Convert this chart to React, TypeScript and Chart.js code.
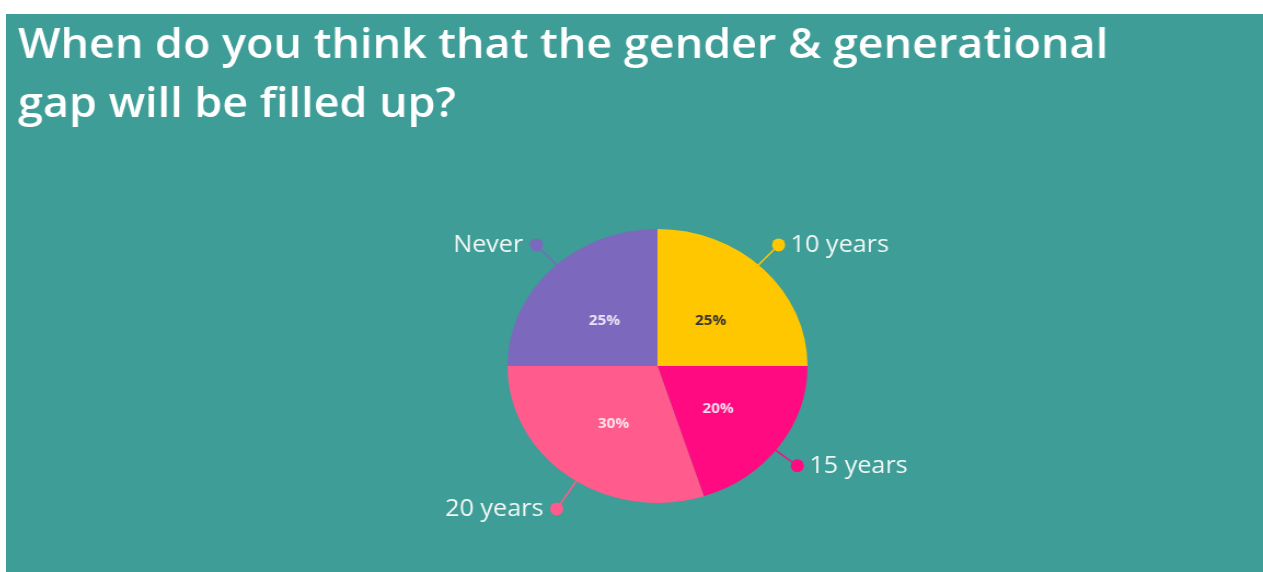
import React, { useEffect, useRef } from "react";
import { Chart, registerables } from "chart.js";

Chart.register(...registerables);

const titleLines = ["When do you think that the gender & generational", "gap will be filled up?"];
const categories = ["10 years", "15 years", "20 years", "Never"];
const shares = [25, 20, 30, 25];
const sliceColors = ["#FFC700", "#FF0A80", "#FF5B8C", "#7C69BE"];
const percentColors = ["#3a3530", "#f5d9ea", "#f7e3ea", "#e9e3f5"];

const BG = "#3E9D96";
const FONT = "'Open Sans', 'DejaVu Sans', sans-serif";
const STRETCH = 1.095; // the reference is horizontally stretched
const CSS_W = 1257;
const CSS_H = 558;
const CANVAS_W = Math.round(CSS_W / STRETCH);

// small style tweaks for the outer callouts (degrees / px), per slice
const calloutAngleNudge = [-2.6, 2, -3.2, 2.6];
const calloutDistance = [27, 25, 33, 27];

const decorPlugin = {
  id: "decor",
  afterDatasetsDraw(chart: any) {
    const ctx = chart.ctx as CanvasRenderingContext2D;
    const meta = chart.getDatasetMeta(0);
    ctx.save();
    // title
    ctx.fillStyle = "#ffffff";
    ctx.font = `600 41px ${FONT}`;
    ctx.textAlign = "left";
    ctx.textBaseline = "alphabetic";
    ctx.fillText(titleLines[0], 11, 44);
    ctx.fillText(titleLines[1], 11, 103);

    meta.data.forEach((arc: any, i: number) => {
      const { x, y, startAngle, endAngle, outerRadius } = arc.getProps(
        ["x", "y", "startAngle", "endAngle", "outerRadius"],
        true
      );
      const mid = (startAngle + endAngle) / 2;
      const cos = Math.cos(mid);
      const sin = Math.sin(mid);
      // percent label
      const pr = outerRadius * 0.5;
      ctx.fillStyle = percentColors[i];
      ctx.font = `bold 14px ${FONT}`;
      ctx.textAlign = "center";
      ctx.textBaseline = "middle";
      ctx.fillText(shares[i] + "%", x + cos * pr, y + sin * pr + 3);

      // leader line + dot
      const a = mid + (calloutAngleNudge[i] * Math.PI) / 180;
      const ca = Math.cos(a);
      const sa = Math.sin(a);
      const dr = outerRadius + calloutDistance[i];
      const dx = x + ca * dr;
      const dy = y + sa * dr;
      ctx.strokeStyle = sliceColors[i];
      ctx.lineWidth = 1.5;
      ctx.beginPath();
      ctx.moveTo(x + ca * (outerRadius - 2), y + sa * (outerRadius - 2));
      ctx.lineTo(dx, dy);
      ctx.stroke();
      ctx.fillStyle = sliceColors[i];
      ctx.beginPath();
      ctx.ellipse(dx, dy, 6, 6.5, 0, 0, Math.PI * 2);
      ctx.fill();

      // category label
      ctx.fillStyle = "#f1f8f6";
      ctx.font = `23px ${FONT}`;
      ctx.textBaseline = "middle";
      if (ca >= 0) {
        ctx.textAlign = "left";
        ctx.fillText(categories[i], dx + 11, dy + 1);
      } else {
        ctx.textAlign = "right";
        ctx.fillText(categories[i], dx - 12, dy + 1);
      }
    });
    ctx.restore();
  },
};

export default function App() {
  const ref = useRef<HTMLCanvasElement>(null);
  useEffect(() => {
    if (!ref.current) return;
    const chart = new Chart(ref.current, {
      type: "pie",
      data: {
        labels: categories,
        datasets: [
          {
            data: shares,
            backgroundColor: sliceColors,
            borderWidth: 0,
          },
        ],
      },
      options: {
        animation: false,
        responsive: false,
        devicePixelRatio: 1,
        layout: { padding: { left: 458, right: 416, top: 215, bottom: 69 } },
        plugins: {
          legend: { display: false },
          tooltip: { enabled: false },
          title: { display: false },
        },
      },
      plugins: [decorPlugin],
    });
    return () => chart.destroy();
  }, []);
  return (
    <div
      style={{
        position: "fixed",
        left: 6,
        top: 14,
        width: CSS_W,
        height: CSS_H,
        background: BG,
        overflow: "hidden",
      }}
    >
      <canvas
        ref={ref}
        width={CANVAS_W}
        height={CSS_H}
        style={{
          display: "block",
          width: CANVAS_W,
          height: CSS_H,
          transformOrigin: "0 0",
          transform: `scaleX(${CSS_W / CANVAS_W})`,
        }}
      />
    </div>
  );
}
